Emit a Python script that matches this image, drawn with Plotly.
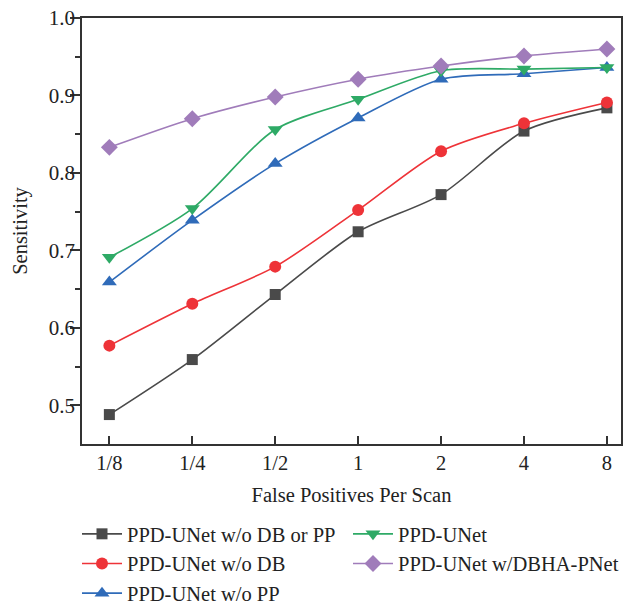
import plotly.graph_objects as go

categories = ["1/8", "1/4", "1/2", "1", "2", "4", "8"]
series_names = ["PPD-UNet w/o DB or PP", "PPD-UNet w/o DB", "PPD-UNet w/o PP",
                "PPD-UNet", "PPD-UNet w/DBHA-PNet"]
wo_db_or_pp = [0.488, 0.559, 0.643, 0.724, 0.772, 0.854, 0.884]
wo_db = [0.577, 0.631, 0.679, 0.752, 0.828, 0.864, 0.891]
wo_pp = [0.659, 0.739, 0.812, 0.871, 0.921, 0.928, 0.936]
ppd_unet = [0.691, 0.754, 0.856, 0.895, 0.932, 0.934, 0.936]
dbha = [0.833, 0.870, 0.898, 0.921, 0.938, 0.951, 0.960]

values = [wo_db_or_pp, wo_db, wo_pp, ppd_unet, dbha]
colors = ["#4a4a4a", "#ee3338", "#2f6bb9", "#2eaa66", "#a07cba"]
symbols = ["square", "circle", "triangle-up", "triangle-down", "diamond"]
sizes = [11, 12, 13, 13, 13]
ranks = [1, 3, 5, 2, 4]

x_idx = list(range(len(categories)))
FONT = "Liberation Serif"

fig = go.Figure()
for name, vals, c, s, sz, rk in zip(series_names, values, colors, symbols, sizes, ranks):
    fig.add_trace(go.Scatter(
        x=x_idx, y=vals, name=name, mode="lines+markers",
        line=dict(color=c, width=1.6, shape="spline", smoothing=0.8),
        marker=dict(symbol=s, size=sz, color=c),
        legendrank=rk,
    ))

axis_line = "#333333"
fig.update_layout(
    width=629, height=606,
    margin=dict(l=82, r=6, t=14, b=162),
    paper_bgcolor="white", plot_bgcolor="white",
    font=dict(family=FONT, size=20, color="#222222"),
    showlegend=True,
    legend=dict(orientation="h", x=77 / 629, xref="container", xanchor="left",
                y=1 - 514 / 606, yref="container", yanchor="top",
                entrywidth=216, entrywidthmode="pixels",
                font=dict(family=FONT, size=20.5, color="#222222"),
                tracegroupgap=0, itemwidth=40, bgcolor="rgba(0,0,0,0)"),
    xaxis=dict(
        range=[-0.33, 6.17], tickmode="array", tickvals=x_idx, ticktext=categories,
        ticks="inside", ticklen=8, tickwidth=1.5, tickcolor=axis_line,
        showline=True, linecolor=axis_line, linewidth=1.5, mirror=True,
        showgrid=False, zeroline=False,
        title=dict(text="False Positives Per Scan", standoff=14, font=dict(size=20.5)),
        tickfont=dict(size=20.5),
    ),
    yaxis=dict(
        range=[0.45, 1.0], tickmode="array", tickvals=[0.5, 0.6, 0.7, 0.8, 0.9, 1.0],
        ticktext=["0.5", "0.6", "0.7", "0.8", "0.9", "1.0"],
        ticks="outside", ticklen=10, tickwidth=1.5, tickcolor=axis_line,
        minor=dict(tickvals=[0.55, 0.65, 0.75, 0.85, 0.95], ticks="outside", ticklen=5,
                   tickwidth=1.5, tickcolor=axis_line),
        showline=True, linecolor=axis_line, linewidth=1.5, mirror=True,
        showgrid=False, zeroline=False,
        title=dict(text="Sensitivity", standoff=16, font=dict(size=20.5)),
        tickfont=dict(size=21), ticklabelstandoff=-9,
    ),
)

fig.write_html("out.html")
